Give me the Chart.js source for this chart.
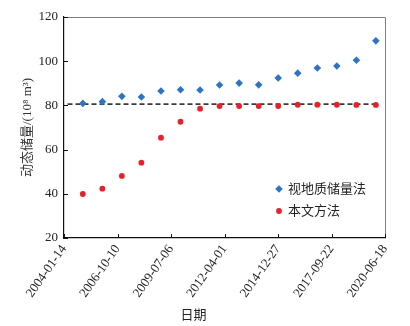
<!DOCTYPE html>
<html>
<head>
<meta charset="utf-8">
<script src="https://cdn.jsdelivr.net/npm/chart.js@4/dist/chart.umd.min.js"></script>
<style>
    html, body { margin: 0; padding: 0; background: #fff; }
    #wrap { position: relative; width: 410px; height: 326px; }
</style>
</head>
<body>
<div id="wrap"><canvas id="chart" width="410" height="326"></canvas></div>
<script>
// --- Data ---
const tickDates = ['2004-01-14', '2006-10-10', '2009-07-06', '2012-04-01', '2014-12-27', '2017-09-22', '2020-06-18'];
const sampleDates = ['2004-12-31', '2005-12-31', '2006-12-31', '2007-12-31', '2008-12-31', '2009-12-31', '2010-12-31', '2011-12-31',
    '2012-12-31', '2013-12-31', '2014-12-31', '2015-12-31', '2016-12-31', '2017-12-31', '2018-12-31', '2019-12-31'];
const geoReserves = [80.9, 81.7, 84.1, 83.8, 86.5, 87.1, 87.0, 89.2, 90.1, 89.3, 92.4, 94.6, 96.9, 97.8, 100.4, 109.2];
const methodReserves = [39.9, 42.3, 48.1, 54.1, 65.4, 72.6, 78.5, 79.7, 79.7, 79.7, 79.7, 80.3, 80.3, 80.3, 80.2, 80.2];
const refLineDates = ['2004-03-20', '2019-12-31'];
const refLineValue = [80.6, 80.6];
const seriesNames = ['视地质储量法', '本文方法'];

// --- Helpers ---
const DAY = 86400000;
const origin = Date.parse(tickDates[0] + 'T00:00:00Z');
function dayOffset(s) {
    return Math.round((Date.parse(s + 'T00:00:00Z') - origin) / DAY);
}
const tickDays = tickDates.map(dayOffset);
const toPoints = (dates, vals) => dates.map((d, i) => ({ x: dayOffset(d), y: vals[i] }));

const serif = '"Liberation Serif", "Times New Roman", "Noto Sans CJK SC", serif';
const cjk = '"Liberation Serif", "Noto Sans CJK SC", sans-serif';

// Inward ticks, grey top/right frame, legend and x title
const decorPlugin = {
    id: 'decor',
    afterDraw(chart) {
        const { ctx, chartArea: a, scales } = chart;
        ctx.save();
        // top/right frame
        ctx.strokeStyle = '#7f7f7f';
        ctx.lineWidth = 1;
        ctx.beginPath();
        ctx.moveTo(a.left, a.top + 0.5);
        ctx.lineTo(a.right + 0.5, a.top + 0.5);
        ctx.lineTo(a.right + 0.5, a.bottom);
        ctx.stroke();

        // inward ticks
        ctx.strokeStyle = '#111';
        ctx.lineWidth = 1;
        ctx.beginPath();
        scales.x.ticks.forEach(t => {
            const px = Math.round(scales.x.getPixelForValue(t.value)) + 0.5;
            ctx.moveTo(px, a.bottom);
            ctx.lineTo(px, a.bottom - 4);
        });
        scales.y.ticks.forEach(t => {
            const py = Math.round(scales.y.getPixelForValue(t.value)) + 0.5;
            ctx.moveTo(a.left, py);
            ctx.lineTo(a.left + 4, py);
        });
        ctx.stroke();

        // legend
        ctx.font = '13px ' + cjk;
        ctx.textBaseline = 'middle';
        ctx.fillStyle = '#222';
        [0, 1].forEach(i => {
            const ds = chart.data.datasets[i];
            const mx = a.right - 106;
            const my = a.bottom - 49 + i * 22;
            ctx.fillStyle = ds.backgroundColor;
            ctx.strokeStyle = ds.borderColor;
            Chart.helpers.drawPoint(ctx, { pointStyle: ds.pointStyle, radius: ds.pointRadius, borderWidth: 0, rotation: 0 }, mx, my);
            ctx.fillStyle = '#222';
            ctx.fillText(seriesNames[i], mx + 9, my + 1);
        });

        // x axis title
        ctx.textAlign = 'center';
        ctx.fillText('日期', (a.left + a.right) / 2 - 31, 316);
        ctx.restore();
    }
};

new Chart(document.getElementById('chart'), {
    type: 'scatter',
    data: {
        datasets: [
            {
                label: seriesNames[0],
                data: toPoints(sampleDates, geoReserves),
                pointStyle: 'rectRot',
                pointRadius: 3.8,
                backgroundColor: '#2e74c5',
                borderColor: '#2e74c5',
                borderWidth: 0,
                order: 1
            },
            {
                label: seriesNames[1],
                data: toPoints(sampleDates, methodReserves),
                pointStyle: 'circle',
                pointRadius: 2.9,
                backgroundColor: '#e8202a',
                borderColor: '#e8202a',
                borderWidth: 0,
                order: 0
            },
            {
                label: 'ref',
                type: 'line',
                data: toPoints(refLineDates, refLineValue),
                borderColor: '#3a3a3a',
                borderWidth: 1.8,
                borderDash: [5, 3],
                pointRadius: 0,
                fill: false,
                order: 2
            }
        ]
    },
    options: {
        responsive: false,
        animation: false,
        layout: { padding: { left: 0, top: 17, right: 25, bottom: 0 } },
        plugins: {
            legend: { display: false },
            tooltip: { enabled: false }
        },
        scales: {
            x: {
                type: 'linear',
                min: tickDays[0],
                max: tickDays[tickDays.length - 1],
                afterBuildTicks: scale => {
                    scale.ticks = tickDays.map(v => ({ value: v }));
                },
                afterFit: scale => { scale.height = 88; },
                grid: { display: false, drawTicks: false },
                border: { display: true, color: '#111', width: 1.2 },
                ticks: {
                    color: '#222',
                    font: { family: serif, size: 13 },
                    minRotation: 55,
                    maxRotation: 55,
                    padding: 4,
                    autoSkip: false,
                    callback: (v, i) => tickDates[i]
                }
            },
            y: {
                min: 20,
                max: 120,
                afterFit: scale => { scale.width = 64; },
                grid: { display: false, drawTicks: false },
                border: { display: true, color: '#111', width: 1.2 },
                ticks: {
                    stepSize: 20,
                    color: '#222',
                    font: { family: serif, size: 13 },
                    padding: 6
                },
                title: {
                    display: true,
                    text: '动态储量/(10⁸ m³)',
                    color: '#333',
                    font: { family: cjk, size: 13 },
                    padding: { top: 20, bottom: 0 }
                }
            }
        }
    },
    plugins: [decorPlugin]
});
</script>
</body>
</html>
